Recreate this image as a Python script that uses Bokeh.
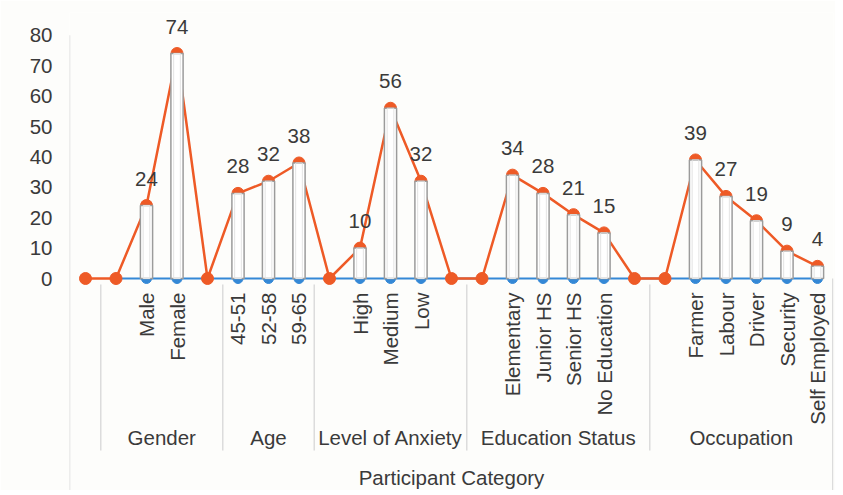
import math
from bokeh.plotting import figure
from bokeh.models import ColumnDataSource, FixedTicker, Range1d
from bokeh.core.properties import value
from bokeh.embed import file_html
from bokeh.resources import INLINE

# ---- data ----
categories = ["", "", "Male", "Female", "", "45-51", "52-58", "59-65", "",
              "High", "Medium", "Low", "", "", "Elementary", "Junior HS",
              "Senior HS", "No Education", "", "", "Farmer", "Labour",
              "Driver", "Security", "Self Employed"]
counts = [0, 0, 24, 74, 0, 28, 32, 38, 0, 10, 56, 32, 0, 0, 34, 28, 21, 15,
          0, 0, 39, 27, 19, 9, 4]
groups = ["Gender", "Age", "Level of Anxiety", "Education Status", "Occupation"]
group_first = [1, 5, 8, 13, 19]
group_last = [4, 7, 12, 18, 24]
y_ticks = [0, 10, 20, 30, 40, 50, 60, 70, 80]
axis_title = "Participant Category"

# ---- layout constants ----
PX = 3.04            # pixels per unit on y
XPX = 30.5           # pixels per category
FONT = value("Liberation Sans")
FS = "20.5px"
TXT = "#3a3a3a"
ORANGE = "#ee5a26"
BLUE = "#3488d6"

n = len(categories)
idx = list(range(n))
x_start = -16 / XPX
x_end = n - 1 + 16 / XPX
y_end = (278 - 12) / PX
y_start = -(490 - 278) / PX

p = figure(width=835, height=490, output_backend="svg", toolbar_location=None,
           x_range=Range1d(x_start, x_end), y_range=Range1d(y_start, y_end),
           x_axis_location=None, min_border_left=69, min_border_right=2,
           min_border_top=12, min_border_bottom=0)
p.background_fill_color = "#fdfdfb"
p.border_fill_color = "#fdfdfb"
p.outline_line_color = None
p.grid.visible = False

ya = p.yaxis[0]
ya.ticker = FixedTicker(ticks=y_ticks)
ya.axis_line_color = None
ya.major_tick_line_color = None
ya.minor_tick_line_color = None
ya.major_label_standoff = 11
ya.major_label_text_font = "Liberation Sans"
ya.major_label_text_font_size = FS
ya.major_label_text_color = TXT

# left frame line & group separators
p.segment(x0=[x_start], y0=[max(y_ticks)], x1=[x_start], y1=[y_start],
          line_color="#dcdcdc", line_width=1.5)
sep_x = [0.5] + [g + 0.5 for g in group_last[:-1]]
p.segment(x0=sep_x, y0=[-2] * len(sep_x), x1=sep_x, y1=[-(450 - 278) / PX] * len(sep_x),
          line_color="#dcdcdc", line_width=1.5)
p.segment(x0=[group_last[-1] + 0.5], y0=[0], x1=[group_last[-1] + 0.5], y1=[y_start],
          line_color="#dcdcdc", line_width=1.5)

# blue base series (zeros)
base_x = idx[1:]
base_y = [0] * len(base_x)
p.line(base_x, base_y, line_color=BLUE, line_width=2)
p.scatter(base_x, base_y, size=10, fill_color=BLUE, line_color=BLUE)

# orange series
p.line(idx, counts, line_color=ORANGE, line_width=2.5)
p.scatter(idx, counts, size=12, fill_color=ORANGE, line_color=ORANGE)

# up-down bars between the two series
bar_x = [i for i in idx if categories[i]]
bar_top = [counts[i] for i in bar_x]
p.vbar(x=bar_x, bottom=0, top=bar_top, width=0.4, fill_color="white",
       line_color="#9b9b9b", line_width=1.5)
p.vbar(x=bar_x, bottom=0, top=bar_top, width=0.22, fill_color=None,
       line_color="#e4e4e4", line_width=1)

# data labels
lab_x = bar_x
lab_y = [counts[i] + 27 / PX for i in bar_x]
p.text(x=lab_x, y=lab_y, text=[str(counts[i]) for i in bar_x],
       text_font=FONT, text_font_size=FS, text_color=TXT,
       text_align="center", text_baseline="middle")

# category labels (rotated)
p.text(x=bar_x, y=[-(292 - 278) / PX] * len(bar_x), text=[categories[i] for i in bar_x],
       angle=math.pi / 2, text_font=FONT, text_font_size=FS, text_color=TXT,
       text_align="right", text_baseline="middle")

# group labels
gx = [(a + b) / 2 for a, b in zip(group_first, group_last)]
p.text(x=gx, y=[-(437 - 278) / PX] * len(gx), text=groups,
       text_font=FONT, text_font_size=FS, text_color=TXT,
       text_align="center", text_baseline="middle")

# axis title
p.text(x=[(x_start + x_end) / 2], y=[-(477 - 278) / PX], text=[axis_title],
       text_font=FONT, text_font_size=FS, text_color=TXT,
       text_align="center", text_baseline="middle")

open("out.html", "w").write(file_html(p, INLINE))
